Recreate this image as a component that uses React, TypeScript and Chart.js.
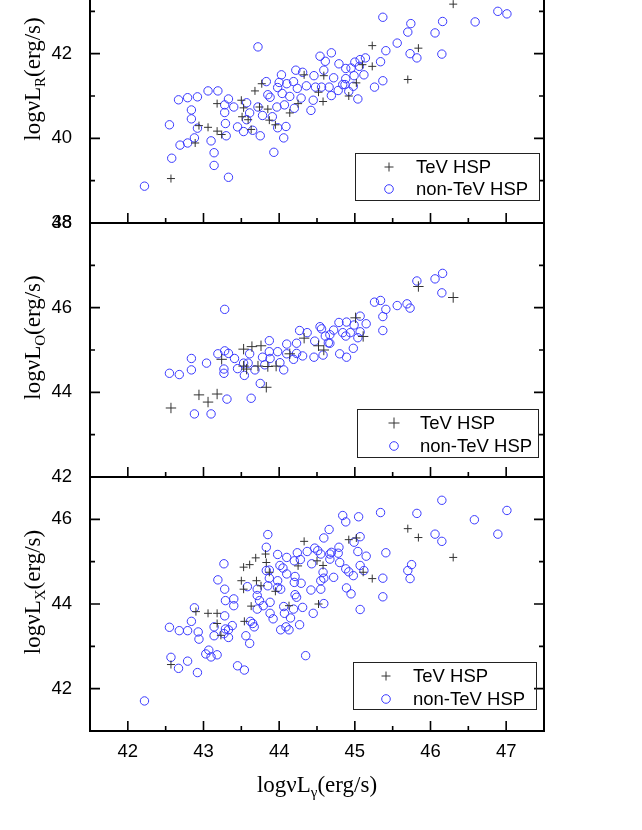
import React, { useEffect, useRef } from 'react';
import { Chart, registerables } from 'chart.js';

Chart.register(...registerables);

type Pt = [number, number];

// ---- data (log luminosities, erg/s) ----
const seriesLabels = ['TeV HSP', 'non-TeV HSP'];
const panelSubscripts = ['R', 'O', 'X'];
const xTitleSubscript = 'γ';
const yRanges: Pt[] = [[38, 44], [42, 48], [41, 47]];
const xRange: Pt = [41.5, 47.5];

const tevR: Pt[] = [
  [42.57, 39.05], [42.89, 39.89], [42.94, 40.30], [43.06, 40.26], [43.18, 40.17], [43.24, 40.09],
  [43.18, 40.82], [43.50, 40.90], [43.53, 40.72], [43.51, 40.51], [43.59, 40.44], [43.68, 41.12],
  [43.77, 41.29], [43.74, 40.74], [43.85, 40.69], [43.87, 40.43], [43.95, 40.32], [43.63, 40.21],
  [44.14, 40.60], [44.25, 40.82], [44.33, 41.50], [44.59, 41.48], [44.52, 41.09], [44.58, 40.87],
  [44.92, 41.00], [46.30, 43.17], [45.23, 42.19], [45.84, 42.13], [45.23, 41.70], [45.70, 41.39],
  [45.10, 41.74], [45.02, 41.31],
];
const nonTevR: Pt[] = [
  [43.72, 42.16], [44.54, 41.94], [44.69, 42.02], [44.61, 41.82], [44.79, 41.76], [44.88, 41.65],
  [44.22, 41.61], [44.03, 41.50], [44.31, 41.56], [44.46, 41.48], [44.59, 41.61], [44.72, 41.43],
  [43.83, 41.34], [44.10, 41.29], [44.19, 41.34], [44.00, 41.32], [44.36, 41.24], [43.98, 41.20],
  [44.24, 41.18], [44.48, 41.21], [44.56, 41.21], [44.66, 41.21], [44.78, 41.13], [44.87, 41.27],
  [43.06, 41.12], [43.19, 41.12], [42.67, 40.91], [42.79, 40.96], [42.92, 40.98], [43.33, 40.93],
  [43.85, 41.03], [43.88, 40.97], [44.04, 41.06], [44.14, 40.99], [44.29, 40.95], [44.45, 40.90],
  [44.69, 41.01], [42.84, 40.67], [42.84, 40.46], [43.28, 40.79], [43.28, 40.61], [43.40, 40.74],
  [43.57, 40.84], [43.72, 40.74], [43.61, 40.60], [43.97, 40.74], [44.07, 40.79], [44.20, 40.71],
  [44.42, 40.66], [43.78, 40.54], [43.91, 40.51], [42.55, 40.32], [42.92, 40.24], [43.29, 40.35],
  [43.30, 40.06], [43.45, 40.27], [43.57, 40.44], [43.53, 40.16], [43.65, 40.19], [43.75, 40.06],
  [43.98, 40.25], [44.09, 40.28], [44.06, 40.01], [42.88, 40.01], [43.10, 39.94], [42.79, 39.89],
  [42.69, 39.84], [42.58, 39.53], [43.14, 39.66], [43.14, 39.36], [43.33, 39.08], [43.93, 39.67],
  [42.22, 38.87],
  [45.37, 42.86], [45.74, 42.71], [45.70, 42.51], [46.16, 42.76], [46.06, 42.49], [46.59, 42.75],
  [46.89, 43.00], [47.01, 42.94], [45.56, 42.25], [45.41, 42.07], [45.73, 42.00], [45.82, 41.90],
  [46.15, 41.99], [45.34, 41.81], [45.14, 41.90], [45.07, 41.86], [45.12, 41.50], [45.37, 41.36],
  [45.26, 41.21], [45.04, 40.93], [44.95, 41.66], [45.00, 41.80], [45.06, 41.70], [44.99, 41.48],
  [44.88, 41.41], [44.84, 41.27], [44.98, 41.23], [44.92, 41.11],
];

const tevO: Pt[] = [
  [42.57, 43.63], [42.94, 43.94], [43.06, 43.77], [43.18, 43.96], [43.24, 44.78], [43.53, 45.02],
  [43.64, 45.08], [43.76, 45.10], [43.53, 44.62], [43.57, 44.55], [43.72, 44.62], [43.85, 44.61],
  [43.96, 44.62], [43.83, 44.12], [44.14, 44.91], [44.33, 45.28], [44.52, 45.10], [44.59, 45.00],
  [45.84, 46.50], [46.30, 46.24], [45.01, 45.76], [45.11, 45.32],
];
const nonTevO: Pt[] = [
  [43.28, 45.96], [42.55, 44.45], [42.68, 44.42], [42.84, 44.80], [42.84, 44.53], [43.04, 44.69],
  [43.27, 44.55], [43.27, 44.45], [43.19, 44.91], [43.28, 44.98], [43.33, 44.92], [43.41, 44.80],
  [43.45, 44.56], [43.54, 44.40], [43.59, 44.69], [43.61, 44.91], [43.68, 44.53], [43.78, 44.83],
  [43.87, 45.22], [43.87, 44.96], [43.88, 44.80], [43.81, 44.65], [43.98, 44.96], [44.01, 44.70],
  [44.06, 44.53], [44.10, 45.14], [44.10, 44.91], [44.19, 44.78], [44.23, 45.16], [44.27, 45.46],
  [44.37, 45.41], [44.23, 44.92], [44.31, 44.86], [44.46, 44.83], [44.47, 45.21], [44.54, 45.55],
  [44.56, 45.50], [44.65, 45.17], [44.61, 45.33], [44.58, 44.88], [44.72, 45.47], [44.79, 45.65],
  [44.89, 45.66], [44.84, 45.41], [44.80, 44.91], [44.89, 44.83], [42.88, 43.49], [43.10, 43.49],
  [43.31, 43.84], [43.63, 43.86], [43.75, 44.21], [43.53, 44.69],
  [45.82, 46.63], [46.06, 46.68], [46.16, 46.81], [46.15, 46.35], [45.26, 46.13], [45.34, 46.17],
  [45.56, 46.05], [45.69, 46.09], [45.73, 45.99], [45.41, 45.96], [45.37, 45.79], [45.37, 45.46],
  [45.07, 45.80], [45.15, 45.62], [44.99, 45.59], [44.94, 45.41], [45.07, 45.43], [44.88, 45.33],
  [45.04, 45.29], [44.98, 45.04], [44.67, 45.36], [44.67, 45.16],
];

const tevX: Pt[] = [
  [42.57, 42.57], [42.90, 43.82], [43.06, 43.78], [43.18, 43.78], [43.18, 43.54], [43.23, 43.26],
  [43.50, 44.55], [43.53, 44.35], [43.53, 44.87], [43.61, 44.93], [43.69, 45.09], [43.82, 45.18],
  [43.83, 44.98], [43.70, 44.55], [43.76, 44.43], [43.87, 44.75], [43.95, 44.30], [43.63, 43.95],
  [43.54, 43.59], [44.13, 43.96], [44.33, 45.48], [44.25, 44.90], [44.50, 45.02], [44.58, 44.91],
  [44.52, 44.00], [44.92, 45.52], [45.70, 45.78], [45.84, 45.57], [46.30, 45.10], [45.02, 45.56],
  [45.11, 44.75], [45.23, 44.60],
];
const nonTevX: Pt[] = [
  [44.84, 46.09], [44.88, 45.94], [43.85, 45.64], [44.66, 45.76], [44.59, 45.56], [44.47, 45.32],
  [44.37, 45.24], [44.24, 45.21], [44.10, 45.10], [43.98, 45.17], [43.83, 45.34], [43.27, 44.95],
  [43.83, 44.79], [43.87, 44.80], [44.01, 44.91], [44.05, 44.85], [44.10, 44.71], [44.20, 45.02],
  [44.28, 45.05], [44.43, 44.95], [44.51, 45.26], [44.55, 45.18], [44.67, 45.18], [44.79, 45.34],
  [44.78, 45.20], [44.80, 44.98], [44.88, 44.83], [44.58, 44.75], [44.55, 44.55], [44.59, 44.61],
  [44.72, 44.63], [44.89, 44.38], [44.55, 44.35], [44.42, 44.33], [44.21, 44.65], [44.29, 44.49],
  [44.20, 44.51], [43.98, 44.55], [43.98, 44.39], [44.02, 44.35], [43.87, 44.61], [43.85, 44.43],
  [43.71, 44.35], [43.71, 44.20], [43.74, 44.08], [43.88, 44.04], [43.79, 43.96], [43.71, 43.88],
  [43.58, 44.41], [43.40, 44.12], [43.40, 43.96], [43.29, 44.08], [43.19, 44.57], [43.28, 44.35],
  [43.28, 43.72], [44.06, 43.94], [44.19, 43.88], [44.31, 43.92], [44.23, 44.16], [44.21, 44.22],
  [44.07, 43.78], [43.92, 43.65], [43.88, 43.78], [44.15, 43.67], [44.45, 43.78], [44.27, 43.51],
  [44.09, 43.46], [44.02, 43.39], [44.13, 43.39], [43.67, 43.46], [43.65, 43.54], [43.62, 43.59],
  [43.56, 43.25], [43.61, 43.07], [43.38, 43.49], [43.33, 43.39], [43.29, 43.41], [43.33, 43.21],
  [43.27, 43.30], [43.14, 43.46], [43.14, 43.25], [42.88, 43.91], [42.84, 43.59], [42.55, 43.45],
  [42.68, 43.37], [42.79, 43.37], [42.93, 43.34], [42.94, 43.17], [42.57, 42.74], [42.67, 42.48],
  [42.79, 42.65], [42.92, 42.38], [43.03, 42.82], [43.07, 42.91], [43.10, 42.75], [43.18, 42.80],
  [43.45, 42.54], [43.54, 42.44], [44.35, 42.78], [42.22, 41.71],
  [46.15, 46.45], [47.01, 46.21], [46.58, 45.99], [46.89, 45.65], [46.06, 45.65], [46.15, 45.48],
  [45.82, 46.14], [45.34, 46.16], [45.05, 46.06], [45.07, 45.59], [44.99, 45.46], [45.41, 45.21],
  [45.15, 45.13], [45.04, 45.24], [44.69, 45.22], [44.67, 45.06], [44.92, 44.76], [44.98, 44.67],
  [45.07, 44.91], [45.12, 44.79], [45.37, 44.61], [45.75, 44.93], [45.70, 44.79], [45.73, 44.60],
  [44.95, 44.24], [45.37, 44.17], [45.07, 43.87], [44.59, 44.01],
];

const tevSets = [tevR, tevO, tevX];
const nonTevSets = [nonTevR, nonTevO, nonTevX];

// ---- layout (page pixels) ----
const W = 642;
const OFF = 61; // canvas is shifted up by this much
const H = 891;
const PLOT_LEFT = 90;
const PLOT_RIGHT = 544;
const panelTops = [-31, 223, 477];
const panelBottoms = [223, 477, 731];
const titleCenters = [79, 337.5, 592];
const plusRadius = [4, 5.2, 4];
const legends = [
  { x1: 355, y1: 153, x2: 539, y2: 200, mx: 389, my1: 167, my2: 189, tx: 416, pr: 4.5 },
  { x1: 357, y1: 409, x2: 538, y2: 457, mx: 394, my1: 423, my2: 446, tx: 420, pr: 5.5 },
  { x1: 353, y1: 662, x2: 536, y2: 709, mx: 386, my1: 676, my2: 699, tx: 413, pr: 4.5 },
];
const BLUE = '#3a3aff';
const DARK = '#333333';
const SANS = '"Liberation Sans", Arial, Helvetica, sans-serif';
const SERIF = '"Liberation Serif", "Times New Roman", Times, serif';

type Piece = { t: string; size: number; dy: number };

function drawPieces(ctx: CanvasRenderingContext2D, pieces: Piece[], cx: number, cy: number, rotate: boolean) {
  const widths = pieces.map((p) => {
    ctx.font = `${p.size}px ${SERIF}`;
    return ctx.measureText(p.t).width;
  });
  const total = widths.reduce((a, b) => a + b, 0);
  ctx.save();
  ctx.translate(cx, cy);
  if (rotate) ctx.rotate(-Math.PI / 2);
  ctx.textAlign = 'left';
  ctx.textBaseline = 'alphabetic';
  ctx.fillStyle = '#000';
  let x = -total / 2;
  pieces.forEach((p, i) => {
    ctx.font = `${p.size}px ${SERIF}`;
    ctx.fillText(p.t, x, p.dy);
    x += widths[i];
  });
  ctx.restore();
}

function makeDecor(idx: number) {
  return {
    id: 'decor' + idx,
    afterDraw(chart: any) {
      const ctx: CanvasRenderingContext2D = chart.ctx;
      const a = chart.chartArea;
      const xs = chart.scales.x;
      const ys = chart.scales.y;
      ctx.save();
      ctx.strokeStyle = '#000';
      ctx.lineWidth = 1.6;
      ctx.beginPath();
      xs.ticks.forEach((t: any) => {
        const v = t.value;
        if (v <= xs.min + 1e-6 || v >= xs.max - 1e-6) return;
        const px = xs.getPixelForValue(v);
        const len = Number.isInteger(v) ? 10 : 5;
        ctx.moveTo(px, a.bottom);
        ctx.lineTo(px, a.bottom - len);
      });
      ys.ticks.forEach((t: any) => {
        const v = t.value;
        if (v <= ys.min + 1e-6 || v >= ys.max - 1e-6) return;
        const py = ys.getPixelForValue(v);
        const len = v % 2 === 0 ? 10 : 5;
        ctx.moveTo(a.left, py);
        ctx.lineTo(a.left + len, py);
        ctx.moveTo(a.right, py);
        ctx.lineTo(a.right - len, py);
      });
      ctx.stroke();
      ctx.lineWidth = 2;
      ctx.strokeRect(a.left, a.top, a.right - a.left, a.bottom - a.top);

      // y title
      drawPieces(ctx, [
        { t: 'logνL', size: 23, dy: 0 },
        { t: panelSubscripts[idx], size: 15, dy: 5 },
        { t: '(erg/s)', size: 23, dy: 0 },
      ], 40, titleCenters[idx] + OFF, true);

      if (idx === 2) {
        drawPieces(ctx, [
          { t: 'logνL', size: 23, dy: 0 },
          { t: xTitleSubscript, size: 15, dy: 5 },
          { t: '(erg/s)', size: 23, dy: 0 },
        ], (PLOT_LEFT + PLOT_RIGHT) / 2, 792 + OFF, false);
      }

      // legend
      const lg = legends[idx];
      ctx.lineWidth = 1;
      ctx.strokeStyle = '#222';
      ctx.strokeRect(lg.x1 + 0.5, lg.y1 + OFF + 0.5, lg.x2 - lg.x1, lg.y2 - lg.y1);
      ctx.strokeStyle = DARK;
      ctx.lineWidth = 1;
      ctx.beginPath();
      ctx.moveTo(lg.mx - lg.pr, lg.my1 + OFF);
      ctx.lineTo(lg.mx + lg.pr, lg.my1 + OFF);
      ctx.moveTo(lg.mx, lg.my1 + OFF - lg.pr);
      ctx.lineTo(lg.mx, lg.my1 + OFF + lg.pr);
      ctx.stroke();
      ctx.strokeStyle = BLUE;
      ctx.beginPath();
      ctx.arc(lg.mx, lg.my2 + OFF, 4.3, 0, Math.PI * 2);
      ctx.stroke();
      ctx.fillStyle = '#000';
      ctx.font = `18.5px ${SANS}`;
      ctx.textAlign = 'left';
      ctx.textBaseline = 'middle';
      ctx.fillText(seriesLabels[0], lg.tx, lg.my1 + OFF + 1);
      ctx.fillText(seriesLabels[1], lg.tx, lg.my2 + OFF + 1);
      ctx.restore();
    },
  };
}

function Panel({ idx }: { idx: number }) {
  const ref = useRef<HTMLCanvasElement | null>(null);
  useEffect(() => {
    if (!ref.current) return;
    const top = panelTops[idx] + OFF;
    const bottom = panelBottoms[idx] + OFF;
    const xAxisH = 40;
    const chart = new Chart(ref.current, {
      type: 'scatter',
      data: {
        datasets: [
          {
            label: seriesLabels[0],
            data: tevSets[idx].map(([x, y]) => ({ x, y })),
            pointStyle: 'cross',
            pointRadius: plusRadius[idx],
            pointBorderWidth: 1,
            borderColor: DARK,
            backgroundColor: DARK,
          },
          {
            label: seriesLabels[1],
            data: nonTevSets[idx].map(([x, y]) => ({ x, y })),
            pointStyle: 'circle',
            pointRadius: 4.2,
            pointBorderWidth: 1,
            borderColor: BLUE,
            backgroundColor: 'rgba(0,0,0,0)',
          },
        ],
      },
      options: {
        animation: false,
        responsive: false,
        devicePixelRatio: 1,
        events: [],
        layout: { padding: { left: 0, right: W - PLOT_RIGHT, top, bottom: H - bottom - xAxisH } },
        plugins: { legend: { display: false }, tooltip: { enabled: false } },
        scales: {
          x: {
            type: 'linear',
            min: xRange[0],
            max: xRange[1],
            grid: { display: false },
            border: { display: false },
            afterFit: (s: any) => { s.height = xAxisH; },
            ticks: {
              stepSize: 0.5,
              autoSkip: false,
              maxRotation: 0,
              padding: 2,
              color: '#000',
              font: { family: SANS, size: 18.5 },
              callback: (v: any) => (idx === 2 && Number.isInteger(Number(v)) ? String(v) : ''),
            },
          },
          y: {
            type: 'linear',
            min: yRanges[idx][0],
            max: yRanges[idx][1],
            grid: { display: false },
            border: { display: false },
            afterFit: (s: any) => { s.width = PLOT_LEFT; },
            ticks: {
              stepSize: 1,
              autoSkip: false,
              padding: 10,
              color: '#000',
              font: { family: SANS, size: 18.5 },
              callback: (v: any) => (Number(v) % 2 === 0 ? String(v) : ''),
            },
          },
        },
      },
      plugins: [makeDecor(idx)],
    } as any);
    return () => chart.destroy();
  }, [idx]);
  return (
    <canvas
      ref={ref}
      width={W}
      height={H}
      style={{ position: 'absolute', left: 0, top: 0, width: W, height: H }}
    />
  );
}

export default function App() {
  return (
    <div style={{ position: 'fixed', left: 0, top: -OFF, width: W, height: H, background: '#fff' }}>
      <Panel idx={0} />
      <Panel idx={1} />
      <Panel idx={2} />
    </div>
  );
}
